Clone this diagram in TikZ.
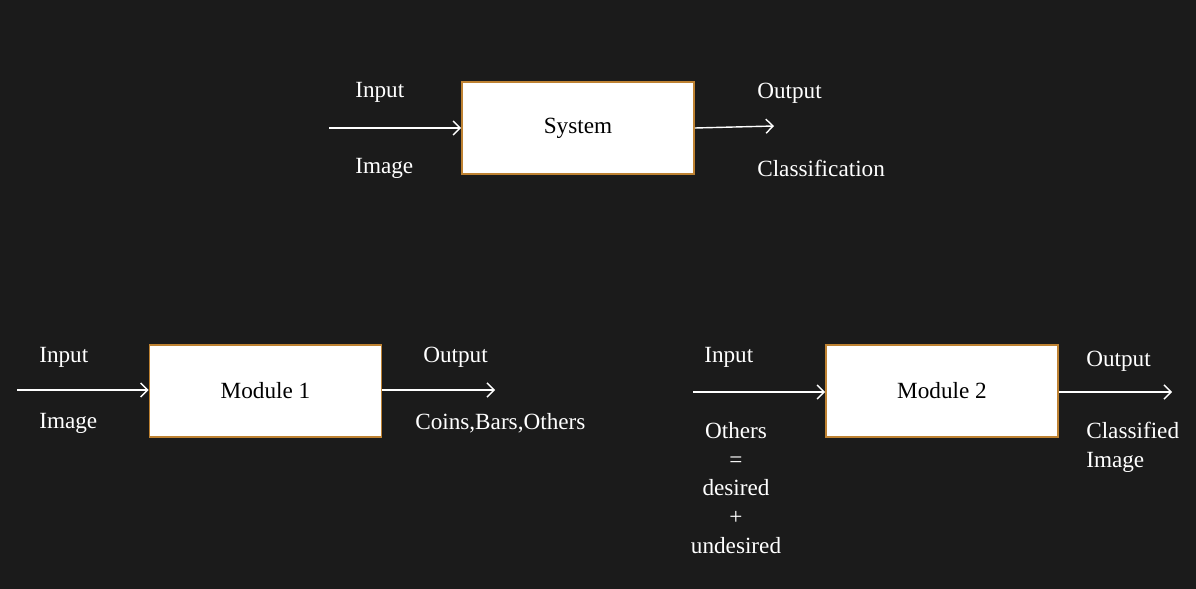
\documentclass[tikz,border=0pt]{standalone}
\usepackage{fontspec}
\setmainfont{Liberation Serif}
\usetikzlibrary{arrows.meta}
\definecolor{fond}{RGB}{27,27,27}
\definecolor{bordbloc}{RGB}{190,130,50}
\tikzset{
    bloc/.style={draw=bordbloc, line width=1.2pt, fill=white, text=black,
        minimum width=5.8cm, minimum height=2.3cm, font=\fontsize{16.5}{20}\selectfont},
    etiq/.style={text=white, inner sep=0pt, font=\fontsize{16.5}{20.5}\selectfont},
    fleche/.style={draw=white, line width=1pt, -{Straight Barb[length=5pt,width=10pt]}}
}
\begin{document}
\begin{tikzpicture}[x=0.025cm, y=-0.025cm]
    % Fond sombre (fixe aussi les marges)
    \fill[fond] (0,0) rectangle (1196,589);
    % Système global
    \node[bloc] (sys) at (578,128) {System};
    \coordinate (sysin) at (329,128);
    \coordinate (sysout) at (774,126);
    \draw[fleche] (sysin) -- (sys.west);
    \draw[fleche] (sys.east) -- (sysout);
    \node[etiq, anchor=west] (sysinput) at (355,92) {Input};
    \node[etiq, anchor=west] (sysimage) at (355,168) {Image};
    \node[etiq, anchor=west] (sysoutput) at (757,93) {Output};
    \node[etiq, anchor=west] (sysclass) at (757,168) {Classification};
    % Module 1
    \node[bloc] (modA) at (265.5,391) {Module 1};
    \coordinate (modAin) at (17,390);
    \coordinate (modAout) at (495,390);
    \draw[fleche] (modAin) -- (modA.west |- modAin);
    \draw[fleche] (modA.east |- modAout) -- (modAout);
    \node[etiq, anchor=west] (modAinput) at (39,357) {Input};
    \node[etiq, anchor=west] (modAimage) at (39,423) {Image};
    \node[etiq, anchor=west] (modAoutput) at (423,357) {Output};
    \node[etiq, anchor=west] (modAcoins) at (415,423) {Coins,Bars,Others};
    % Module 2
    \node[bloc] (modB) at (942,391) {Module 2};
    \coordinate (modBin) at (693,392);
    \coordinate (modBout) at (1172,392);
    \draw[fleche] (modBin) -- (modB.west |- modBin);
    \draw[fleche] (modB.east |- modBout) -- (modBout);
    \node[etiq, anchor=west] (modBinput) at (704,357) {Input};
    \node[etiq, align=center] (modBothers) at (736,488) {Others\\=\\desired\\+\\undesired};
    \node[etiq, anchor=west] (modBoutput) at (1086,361) {Output};
    \node[etiq, anchor=west, align=left] (modBclass) at (1086,447) {Classified\\Image};
\end{tikzpicture}
\end{document}
